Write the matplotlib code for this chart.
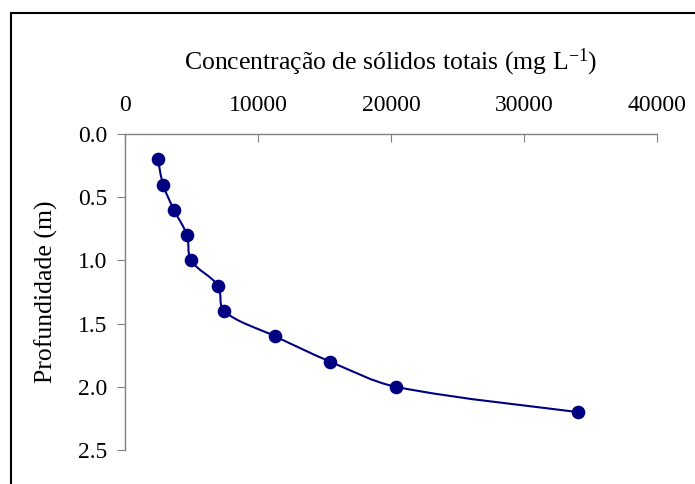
import matplotlib
matplotlib.use("Agg")
import numpy as np
import matplotlib.pyplot as plt
from matplotlib.path import Path
from matplotlib.patches import PathPatch, Rectangle

# solids concentration (mg/L) by depth (m)
solidos = [2480, 2860, 3680, 4660, 4960, 6990, 7440, 11280, 15410, 20380, 34060]
profundidade = [0.2, 0.4, 0.6, 0.8, 1.0, 1.2, 1.4, 1.6, 1.8, 2.0, 2.2]
x_ticks = [0, 10000, 20000, 30000, 40000]
y_ticks = [0.0, 0.5, 1.0, 1.5, 2.0, 2.5]

plt.rcParams["font.family"] = ["Liberation Serif", "DejaVu Serif"]
plt.rcParams["mathtext.fontset"] = "custom"
plt.rcParams["mathtext.rm"] = "Liberation Serif"
plt.rcParams["mathtext.it"] = "Liberation Serif:italic"

NAVY = "#000080"
GREY = "#808080"


def smooth_path(ax, xs, ys):
    # smoothed line like the spreadsheet: cubic bezier through every point,
    # tangents weighted by neighbouring segment lengths (measured on screen)
    data = np.column_stack([xs, ys])
    disp = ax.transData.transform(data)
    n = len(disp)
    seg = np.hypot(*np.diff(disp, axis=0).T)
    verts = [disp[0]]
    codes = [Path.MOVETO]
    for i in range(n - 1):
        p0 = disp[max(i - 1, 0)]
        p1 = disp[i]
        p2 = disp[i + 1]
        p3 = disp[min(i + 2, n - 1)]
        l0 = seg[i - 1] if i > 0 else seg[i]
        l1 = seg[i]
        l2 = seg[i + 1] if i + 1 < n - 1 else seg[i]
        c1 = p1 + (p2 - p0) * l1 / (l0 + l1) / 3
        c2 = p2 - (p3 - p1) * l1 / (l1 + l2) / 3
        verts += [c1, c2, p2]
        codes += [Path.CURVE4] * 3
    verts = ax.transData.inverted().transform(np.array(verts))
    return Path(verts, codes)


fig = plt.figure(figsize=(6.95, 4.84), dpi=100)
ax = fig.add_axes([0.1799, 0.0702, 0.7654, 0.6529])

ax.set_xlim(0, 40000)
ax.set_ylim(2.5, 0.0)
ax.set_xticks(x_ticks)
ax.set_yticks(y_ticks)
ax.set_yticklabels([f"{v:.1f}" for v in y_ticks])

ax.add_patch(PathPatch(smooth_path(ax, solidos, profundidade), facecolor="none",
                       edgecolor=NAVY, lw=1.5, zorder=2))
ax.plot(solidos, profundidade, "o", color=NAVY, markersize=8.8, zorder=3)

ax.xaxis.tick_top()
ax.xaxis.set_label_position("top")
for s in ["right", "bottom"]:
    ax.spines[s].set_visible(False)
for s in ["top", "left"]:
    ax.spines[s].set_color(GREY)
    ax.spines[s].set_linewidth(1.0)
ax.tick_params(axis="x", direction="in", length=6, color=GREY, labelsize=17, pad=13)
ax.tick_params(axis="y", direction="out", length=6, color=GREY, labelsize=17, pad=7)

ax.set_xlabel("Concentração de sólidos totais (mg L$^{\\mathregular{-1}}$)",
              fontsize=18.5, labelpad=18)
ax.set_ylabel("Profundidade (m)", fontsize=18.5, labelpad=14)

# outer chart frame
fig.patches.append(Rectangle((11 / 695, -0.1), 1.2, 1 - 13 / 484 + 0.1,
                             transform=fig.transFigure, facecolor="none",
                             edgecolor="black", lw=1.5))

fig.savefig("out.png", dpi=100)
